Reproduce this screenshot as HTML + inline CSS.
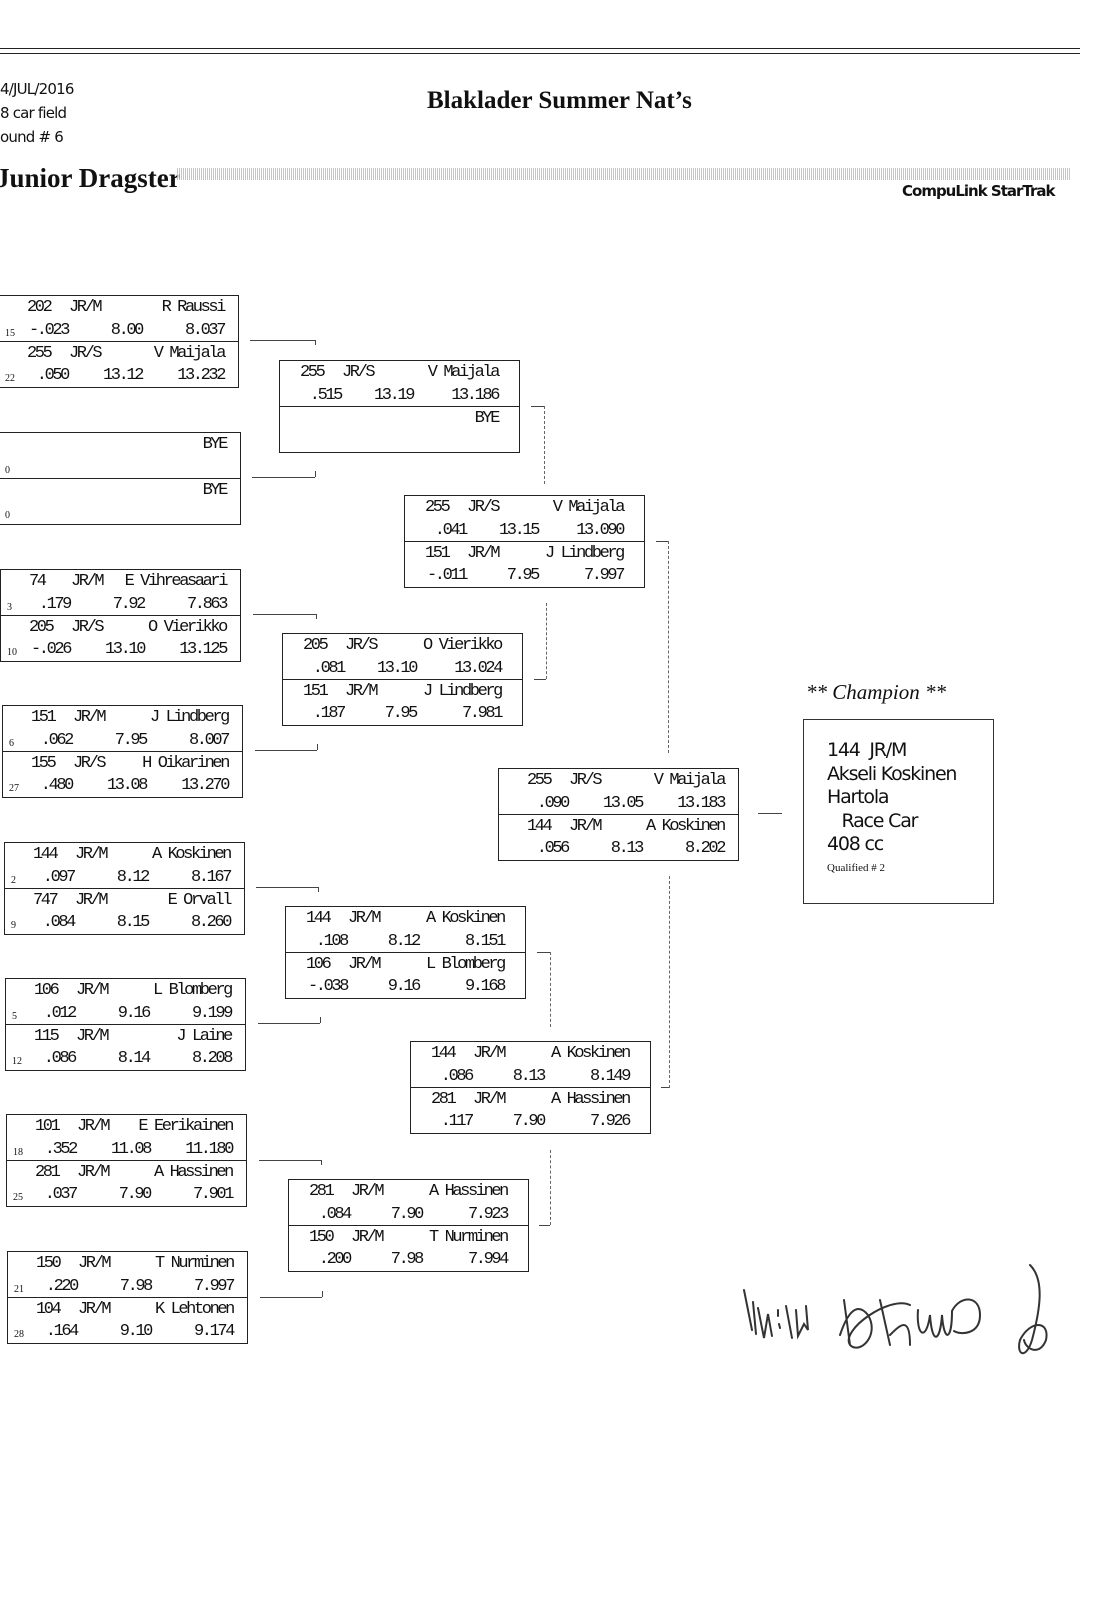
<!DOCTYPE html>
<html><head><meta charset="utf-8"><style>
html,body{margin:0;padding:0;background:#fff;}
body{width:1120px;height:1600px;position:relative;overflow:hidden;color:#111;}
.a{position:absolute;}
.b{position:absolute;width:239px;height:91px;border:1.5px solid #222;font-family:"Liberation Mono",monospace;font-size:17px;letter-spacing:-2.4px;color:#111;}
.dv{position:absolute;left:0;right:0;top:45px;border-top:1.5px solid #222;}
.b span{position:absolute;line-height:20px;white-space:pre;}
.r1{top:2px}.r2{top:25px}.r3{top:48px}.r4{top:70px}
.s{font-family:"Liberation Serif",serif;font-size:10px;letter-spacing:0;left:6px;margin-top:3px}
.A .n{left:28px}.A .c{left:70px}.A .rt{right:170px}.A .et{right:96px}.A .nm,.A .sp{right:14px}
.B .n{left:20px}.B .c{left:62px}.B .rt{right:178px}.B .et{right:106px}.B .nm,.B .sp{right:21px}
.hl{position:absolute;border-top:1px solid #444;height:0}
.vl{position:absolute;border-left:1px solid #444;width:0}
.vd{position:absolute;width:0;border-left:1px dashed #666;}
</style></head><body>

<div class="a" style="left:0;top:48px;width:1080px;border-top:1.5px solid #222"></div>
<div class="a" style="left:0;top:53px;width:1080px;border-top:1px solid #222"></div>
<div class="a" style="left:0;top:77px;font-family:'DejaVu Sans','Liberation Sans',sans-serif;font-size:15px;line-height:24px;letter-spacing:-0.8px">4/JUL/2016<br>8 car field<br>ound # 6</div>
<div class="a" style="left:427px;top:87px;font-family:'Liberation Serif',serif;font-weight:bold;font-size:25px">Blaklader Summer Nat’s</div>
<div class="a" style="left:-4px;top:163px;font-family:'Liberation Serif',serif;font-weight:bold;font-size:27px">Junior Dragster</div>
<div class="a" style="left:177px;top:168px;width:893px;height:12px;background:repeating-linear-gradient(90deg,#bbb 0 1px,#fff 1px 2px),#ddd;opacity:.85"></div>
<div class="a" style="left:902px;top:182px;font-family:'DejaVu Sans','Liberation Sans',sans-serif;font-weight:bold;font-size:15px;letter-spacing:-1px">CompuLink StarTrak</div>

<!-- Round 1 -->
<div class="b A" style="left:-2px;top:295px">
<span class="r1 n">202</span><span class="r1 c">JR/M</span><span class="r1 nm">R Raussi</span>
<span class="r2 s">15</span><span class="r2 rt">-.023</span><span class="r2 et">8.00</span><span class="r2 sp">8.037</span>
<div class="dv"></div>
<span class="r3 n">255</span><span class="r3 c">JR/S</span><span class="r3 nm">V Maijala</span>
<span class="r4 s">22</span><span class="r4 rt">.050</span><span class="r4 et">13.12</span><span class="r4 sp">13.232</span>
</div>
<div class="b A" style="left:-2px;top:432px;width:241px">
<span class="r1 nm">BYE</span><span class="r2 s">0</span>
<div class="dv"></div>
<span class="r3 nm">BYE</span><span class="r4 s">0</span>
</div>
<div class="b A" style="left:0px;top:569px">
<span class="r1 n">74</span><span class="r1 c">JR/M</span><span class="r1 nm">E Vihreasaari</span>
<span class="r2 s">3</span><span class="r2 rt">.179</span><span class="r2 et">7.92</span><span class="r2 sp">7.863</span>
<div class="dv"></div>
<span class="r3 n">205</span><span class="r3 c">JR/S</span><span class="r3 nm">O Vierikko</span>
<span class="r4 s">10</span><span class="r4 rt">-.026</span><span class="r4 et">13.10</span><span class="r4 sp">13.125</span>
</div>
<div class="b A" style="left:2px;top:705px">
<span class="r1 n">151</span><span class="r1 c">JR/M</span><span class="r1 nm">J Lindberg</span>
<span class="r2 s">6</span><span class="r2 rt">.062</span><span class="r2 et">7.95</span><span class="r2 sp">8.007</span>
<div class="dv"></div>
<span class="r3 n">155</span><span class="r3 c">JR/S</span><span class="r3 nm">H Oikarinen</span>
<span class="r4 s">27</span><span class="r4 rt">.480</span><span class="r4 et">13.08</span><span class="r4 sp">13.270</span>
</div>
<div class="b A" style="left:4px;top:842px">
<span class="r1 n">144</span><span class="r1 c">JR/M</span><span class="r1 nm">A Koskinen</span>
<span class="r2 s">2</span><span class="r2 rt">.097</span><span class="r2 et">8.12</span><span class="r2 sp">8.167</span>
<div class="dv"></div>
<span class="r3 n">747</span><span class="r3 c">JR/M</span><span class="r3 nm">E Orvall</span>
<span class="r4 s">9</span><span class="r4 rt">.084</span><span class="r4 et">8.15</span><span class="r4 sp">8.260</span>
</div>
<div class="b A" style="left:5px;top:978px">
<span class="r1 n">106</span><span class="r1 c">JR/M</span><span class="r1 nm">L Blomberg</span>
<span class="r2 s">5</span><span class="r2 rt">.012</span><span class="r2 et">9.16</span><span class="r2 sp">9.199</span>
<div class="dv"></div>
<span class="r3 n">115</span><span class="r3 c">JR/M</span><span class="r3 nm">J Laine</span>
<span class="r4 s">12</span><span class="r4 rt">.086</span><span class="r4 et">8.14</span><span class="r4 sp">8.208</span>
</div>
<div class="b A" style="left:6px;top:1114px">
<span class="r1 n">101</span><span class="r1 c">JR/M</span><span class="r1 nm">E Eerikainen</span>
<span class="r2 s">18</span><span class="r2 rt">.352</span><span class="r2 et">11.08</span><span class="r2 sp">11.180</span>
<div class="dv"></div>
<span class="r3 n">281</span><span class="r3 c">JR/M</span><span class="r3 nm">A Hassinen</span>
<span class="r4 s">25</span><span class="r4 rt">.037</span><span class="r4 et">7.90</span><span class="r4 sp">7.901</span>
</div>
<div class="b A" style="left:7px;top:1251px">
<span class="r1 n">150</span><span class="r1 c">JR/M</span><span class="r1 nm">T Nurminen</span>
<span class="r2 s">21</span><span class="r2 rt">.220</span><span class="r2 et">7.98</span><span class="r2 sp">7.997</span>
<div class="dv"></div>
<span class="r3 n">104</span><span class="r3 c">JR/M</span><span class="r3 nm">K Lehtonen</span>
<span class="r4 s">28</span><span class="r4 rt">.164</span><span class="r4 et">9.10</span><span class="r4 sp">9.174</span>
</div>

<!-- Round 2 -->
<div class="b B" style="left:279px;top:360px">
<span class="r1 n">255</span><span class="r1 c">JR/S</span><span class="r1 nm">V Maijala</span>
<span class="r2 rt">.515</span><span class="r2 et">13.19</span><span class="r2 sp">13.186</span>
<div class="dv"></div>
<span class="r3 nm">BYE</span>
</div>
<div class="b B" style="left:282px;top:633px">
<span class="r1 n">205</span><span class="r1 c">JR/S</span><span class="r1 nm">O Vierikko</span>
<span class="r2 rt">.081</span><span class="r2 et">13.10</span><span class="r2 sp">13.024</span>
<div class="dv"></div>
<span class="r3 n">151</span><span class="r3 c">JR/M</span><span class="r3 nm">J Lindberg</span>
<span class="r4 rt">.187</span><span class="r4 et">7.95</span><span class="r4 sp">7.981</span>
</div>
<div class="b B" style="left:285px;top:906px">
<span class="r1 n">144</span><span class="r1 c">JR/M</span><span class="r1 nm">A Koskinen</span>
<span class="r2 rt">.108</span><span class="r2 et">8.12</span><span class="r2 sp">8.151</span>
<div class="dv"></div>
<span class="r3 n">106</span><span class="r3 c">JR/M</span><span class="r3 nm">L Blomberg</span>
<span class="r4 rt">-.038</span><span class="r4 et">9.16</span><span class="r4 sp">9.168</span>
</div>
<div class="b B" style="left:288px;top:1179px">
<span class="r1 n">281</span><span class="r1 c">JR/M</span><span class="r1 nm">A Hassinen</span>
<span class="r2 rt">.084</span><span class="r2 et">7.90</span><span class="r2 sp">7.923</span>
<div class="dv"></div>
<span class="r3 n">150</span><span class="r3 c">JR/M</span><span class="r3 nm">T Nurminen</span>
<span class="r4 rt">.200</span><span class="r4 et">7.98</span><span class="r4 sp">7.994</span>
</div>

<!-- Round 3 -->
<div class="b B" style="left:404px;top:495px">
<span class="r1 n">255</span><span class="r1 c">JR/S</span><span class="r1 nm">V Maijala</span>
<span class="r2 rt">.041</span><span class="r2 et">13.15</span><span class="r2 sp">13.090</span>
<div class="dv"></div>
<span class="r3 n">151</span><span class="r3 c">JR/M</span><span class="r3 nm">J Lindberg</span>
<span class="r4 rt">-.011</span><span class="r4 et">7.95</span><span class="r4 sp">7.997</span>
</div>
<div class="b B" style="left:410px;top:1041px">
<span class="r1 n">144</span><span class="r1 c">JR/M</span><span class="r1 nm">A Koskinen</span>
<span class="r2 rt">.086</span><span class="r2 et">8.13</span><span class="r2 sp">8.149</span>
<div class="dv"></div>
<span class="r3 n">281</span><span class="r3 c">JR/M</span><span class="r3 nm">A Hassinen</span>
<span class="r4 rt">.117</span><span class="r4 et">7.90</span><span class="r4 sp">7.926</span>
</div>

<!-- Final -->
<div class="b A" style="left:498px;top:768px">
<span class="r1 n">255</span><span class="r1 c">JR/S</span><span class="r1 nm">V Maijala</span>
<span class="r2 rt">.090</span><span class="r2 et">13.05</span><span class="r2 sp">13.183</span>
<div class="dv"></div>
<span class="r3 n">144</span><span class="r3 c">JR/M</span><span class="r3 nm">A Koskinen</span>
<span class="r4 rt">.056</span><span class="r4 et">8.13</span><span class="r4 sp">8.202</span>
</div>

<!-- connectors round1->2 -->
<div class="hl" style="left:250px;top:340px;width:65px"></div><div class="vl" style="left:315px;top:340px;height:5px"></div>
<div class="hl" style="left:252px;top:477px;width:63px"></div><div class="vl" style="left:315px;top:471px;height:6px"></div>
<div class="hl" style="left:253px;top:614px;width:63px"></div><div class="vl" style="left:316px;top:614px;height:5px"></div>
<div class="hl" style="left:255px;top:750px;width:62px"></div><div class="vl" style="left:317px;top:744px;height:6px"></div>
<div class="hl" style="left:256px;top:887px;width:62px"></div><div class="vl" style="left:318px;top:887px;height:5px"></div>
<div class="hl" style="left:258px;top:1023px;width:62px"></div><div class="vl" style="left:320px;top:1017px;height:6px"></div>
<div class="hl" style="left:259px;top:1160px;width:62px"></div><div class="vl" style="left:321px;top:1160px;height:5px"></div>
<div class="hl" style="left:260px;top:1297px;width:62px"></div><div class="vl" style="left:322px;top:1291px;height:6px"></div>
<!-- round2->3 -->
<div class="hl" style="left:531px;top:406px;width:13px"></div><div class="vd" style="left:544px;top:406px;height:78px"></div>
<div class="vd" style="left:546px;top:603px;height:76px"></div><div class="hl" style="left:534px;top:679px;width:12px"></div>
<div class="hl" style="left:537px;top:952px;width:13px"></div><div class="vd" style="left:550px;top:952px;height:75px"></div>
<div class="vd" style="left:550px;top:1150px;height:75px"></div><div class="hl" style="left:539px;top:1225px;width:11px"></div>
<!-- round3->4 -->
<div class="hl" style="left:656px;top:541px;width:12px"></div><div class="vd" style="left:668px;top:541px;height:212px"></div>
<div class="vd" style="left:669px;top:876px;height:212px"></div><div class="hl" style="left:661px;top:1087px;width:8px"></div>
<div class="hl" style="left:758px;top:813px;width:24px"></div>

<!-- Champion -->
<div class="a" style="left:806px;top:680px;font-family:'Liberation Serif',serif;font-style:italic;font-size:21px">** Champion **</div>
<div class="a" style="left:803px;top:719px;width:189px;height:183px;border:1.3px solid #333"></div>
<div class="a" style="left:827px;top:739px;font-family:'DejaVu Sans','Liberation Sans',sans-serif;font-size:19px;line-height:23.5px;letter-spacing:-1.2px">144&nbsp;&nbsp;JR/M<br>Akseli Koskinen<br>Hartola<br>&nbsp;&nbsp;&nbsp;Race Car<br>408 cc</div>
<div class="a" style="left:827px;top:862px;font-family:'Liberation Serif',serif;font-size:11px">Qualified # 2</div>

<!-- signature -->
<svg class="a" style="left:740px;top:1260px" width="320" height="100" viewBox="0 0 320 100" fill="none" stroke="#333" stroke-width="2" stroke-linecap="round">
<path d="M4 30 L12 70 M13 42 L16 74 M18 48 L24 78 L28 54 L32 76 M38 50 L38 56 M39 64 L40 68"/>
<path d="M46 46 L52 78 M56 50 L58 76 L64 64 L68 70 L66 46"/>
<path d="M104 40 L110 85 M100 75 C110 45 120 45 128 55 C140 75 120 95 110 85 C100 70 150 35 170 45 M140 40 L150 85 M150 75 C160 65 170 55 170 85 M178 50 C176 75 186 83 190 55 C192 85 200 83 202 55 C204 83 212 81 212 51 C220 35 240 35 240 55 C240 75 220 75 214 71"/>
<path d="M290 5 C305 20 300 50 292 80 C286 100 276 95 280 80 C290 60 310 60 306 80 C300 96 286 90 284 80"/>
</svg>
</body></html>
